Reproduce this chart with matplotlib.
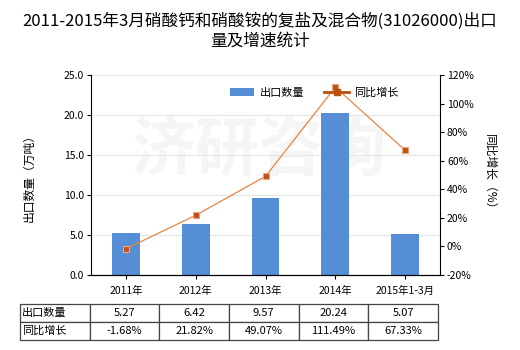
import matplotlib
matplotlib.use("Agg")
import matplotlib.pyplot as plt
from matplotlib.lines import Line2D
import numpy as np

plt.rcParams['font.family'] = ['Noto Sans CJK SC', 'DejaVu Sans']

categories = ["2011年", "2012年", "2013年", "2014年", "2015年1-3月"]
export_qty = [5.27, 6.42, 9.57, 20.24, 5.07]
growth = [-1.68, 21.82, 49.07, 111.49, 67.33]
qty_labels = ["5.27", "6.42", "9.57", "20.24", "5.07"]
growth_labels = ["-1.68%", "21.82%", "49.07%", "111.49%", "67.33%"]

fig = plt.figure(figsize=(5.2, 3.5), dpi=100)
ax = fig.add_axes([91 / 520, 75 / 350, 349 / 520, 200 / 350])
x = np.arange(len(categories))

# faint watermark, behind everything
fig.text(0.50, 0.57, "济研咨询", fontsize=46, color="#f4f6f6", ha="center", va="center",
         fontweight="bold", zorder=-5)

ax.bar(x, export_qty, width=0.4, color="#558ED5", label="出口数量", zorder=2)
ax.set_xlim(-0.5, len(categories) - 0.5)
ax.set_ylim(0, 25)
ax.set_yticks(np.arange(0, 25.1, 5))
ax.set_yticklabels([f"{v:.1f}" for v in np.arange(0, 25.1, 5)])
ax.set_xticks(x)
ax.set_xticklabels(categories)
ax.yaxis.grid(True, color="#e6e6e6", linewidth=0.8, zorder=0)
ax.set_axisbelow(True)
ax.patch.set_alpha(0)
ax.tick_params(axis="both", labelsize=7.5, length=3, width=0.8, pad=2)
ax.tick_params(axis="x", pad=5)
ax.spines["top"].set_visible(False)
ax.spines["right"].set_visible(False)
ax.set_ylabel("出口数量（万吨）", fontsize=8.5, labelpad=20)

ax2 = ax.twinx()
ax2.plot(x, growth, color="#E9843E", linewidth=0.9, marker="s", markersize=4.5,
         markerfacecolor="#C0501A", markeredgecolor="#EBA57A", markeredgewidth=0.8,
         label="同比增长", zorder=3)
ax2.set_ylim(-20, 120)
ax2.set_yticks(np.arange(-20, 121, 20))
ax2.set_yticklabels([f"{v}%" for v in range(-20, 121, 20)])
ax2.tick_params(axis="y", labelsize=7.5, length=3, width=0.8, pad=2)
ax2.spines["top"].set_visible(False)
ax2.spines["left"].set_visible(False)
ax2.set_ylabel("同比增长（%）", fontsize=8.5, rotation=-90, labelpad=16)

h1, l1 = ax.get_legend_handles_labels()
h2 = [Line2D([0], [0], color="#B5500F", linewidth=2, marker="s", markersize=4,
             markerfacecolor="#B5500F")]
ax2.legend(h1 + h2, l1 + ["同比增长"], loc="center", bbox_to_anchor=(0.64, 0.91),
           ncol=2, frameon=False, fontsize=8, handlelength=2.2, columnspacing=1.8,
           handletextpad=0.5)

cell_text = [["出口数量"] + qty_labels, ["同比增长"] + growth_labels]
x0 = (20 - 91) / 349
tbl = ax.table(cellText=cell_text, cellLoc="center",
               bbox=[x0, -0.325, 0.994 - x0, 0.18])
tbl.auto_set_font_size(False)
tbl.set_fontsize(8)
for (r, c), cell in tbl.get_celld().items():
    cell.set_edgecolor("#444444")
    cell.set_linewidth(0.9)
    if c == 0:
        cell._loc = "left"
        cell.PAD = 0.03
        cell.get_text().set_horizontalalignment("left")

fig.suptitle("2011-2015年3月硝酸钙和硝酸铵的复盐及混合物(31026000)出口\n量及增速统计",
             fontsize=12, y=0.965, linespacing=1.25)

fig.savefig("out.png", dpi=100)
